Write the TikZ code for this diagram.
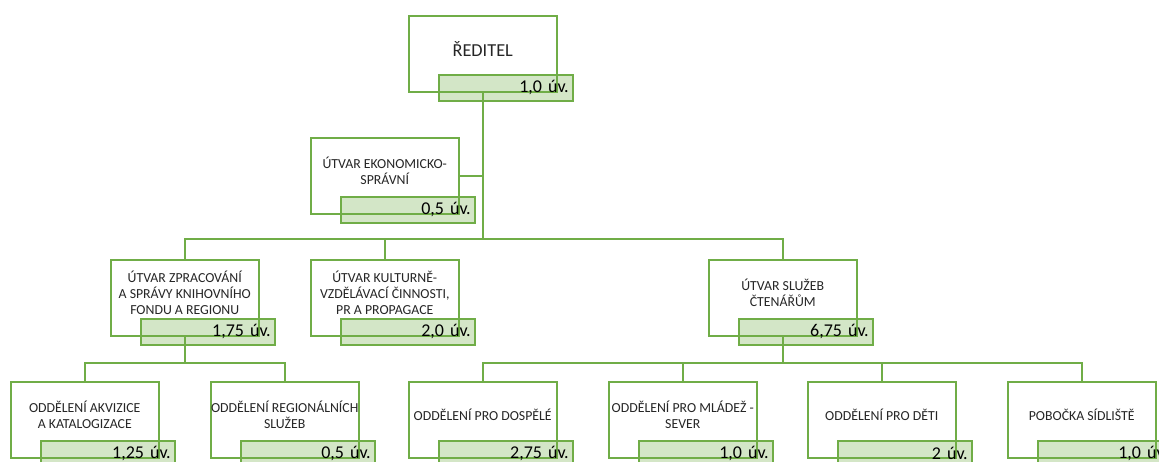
\documentclass[tikz,border=0pt]{standalone}
\usepackage{fontspec}
\setmainfont{Carlito}
\usetikzlibrary{backgrounds}
\definecolor{og}{HTML}{70AD47}
\begin{document}
\begin{tikzpicture}[x=1pt,y=-1pt,
  box/.style={draw=og, line width=1.5pt, fill=white, minimum width=148pt, minimum height=76pt, anchor=north west, inner sep=0pt},
  lbl/.style={draw=og, line width=1.5pt, fill=og, fill opacity=0.3, text opacity=1, minimum height=26pt, text width=126pt, inner xsep=4pt, inner ysep=0pt, align=right, anchor=north west, font=\fontsize{18}{20}\selectfont},
  txt/.style={align=center, font=\fontsize{13.8}{16}\selectfont, inner sep=0pt, text=black!85},
  wire/.style={draw=og, line width=1.5pt}]
\useasboundingbox (0,0) rectangle (1159,461);
\clip (0,0) rectangle (1159,461);
\newcommand\orgunit[5]{%
  \node[box] (#1) at (#2,#3) {};
  \node[txt] (#1-t) at ([yshift=5pt]#1.center) {#4};
  \node[lbl] (#1-l) at (#2+30,#3+59) {#5};
}
\orgunit{dir}{408}{15}{\fontsize{18.3}{20}\selectfont ŘEDITEL}{1,0 úv.}
\orgunit{eko}{310}{137}{ÚTVAR EKONOMICKO-\\SPRÁVNÍ}{0,5 úv.}
\orgunit{zpr}{110}{259}{ÚTVAR ZPRACOVÁNÍ\\A SPRÁVY KNIHOVNÍHO\\FONDU A REGIONU}{1,75 úv.}
\orgunit{kul}{310}{259}{ÚTVAR KULTURNĚ-\\VZDĚLÁVACÍ ČINNOSTI,\\PR A PROPAGACE}{2,0 úv.}
\orgunit{slu}{708}{259}{ÚTVAR SLUŽEB\\ČTENÁŘŮM}{6,75 úv.}
\orgunit{akv}{10}{381}{ODDĚLENÍ AKVIZICE\\A KATALOGIZACE}{1,25 úv.}
\orgunit{reg}{210}{381}{ODDĚLENÍ REGIONÁLNÍCH\\SLUŽEB}{0,5 úv.}
\orgunit{dos}{408}{381}{ODDĚLENÍ PRO DOSPĚLÉ}{2,75 úv.}
\orgunit{mla}{608}{381}{ODDĚLENÍ PRO MLÁDEŽ -\\SEVER}{1,0 úv.}
\orgunit{det}{807}{381}{ODDĚLENÍ PRO DĚTI}{2 úv.}
\orgunit{sid}{1007}{381}{POBOČKA SÍDLIŠTĚ}{1,0 úv.}
\coordinate (bus2) at (0,239);
\coordinate (bus3) at (0,363);
\begin{pgfonlayer}{background}
\draw[wire] (dir.south) -- (dir.south |- bus2);
\draw[wire] (eko.east) -- (eko.east -| dir.south);
\foreach \c in {zpr,kul,slu}{\draw[wire] (dir.south |- bus2) -| (\c.north);}
\foreach \c in {akv,reg}{\draw[wire] (zpr.south) -- (zpr.south |- bus3) -| (\c.north);}
\foreach \c in {dos,mla,det,sid}{\draw[wire] (slu.south) -- (slu.south |- bus3) -| (\c.north);}
\end{pgfonlayer}
\end{tikzpicture}
\end{document}
